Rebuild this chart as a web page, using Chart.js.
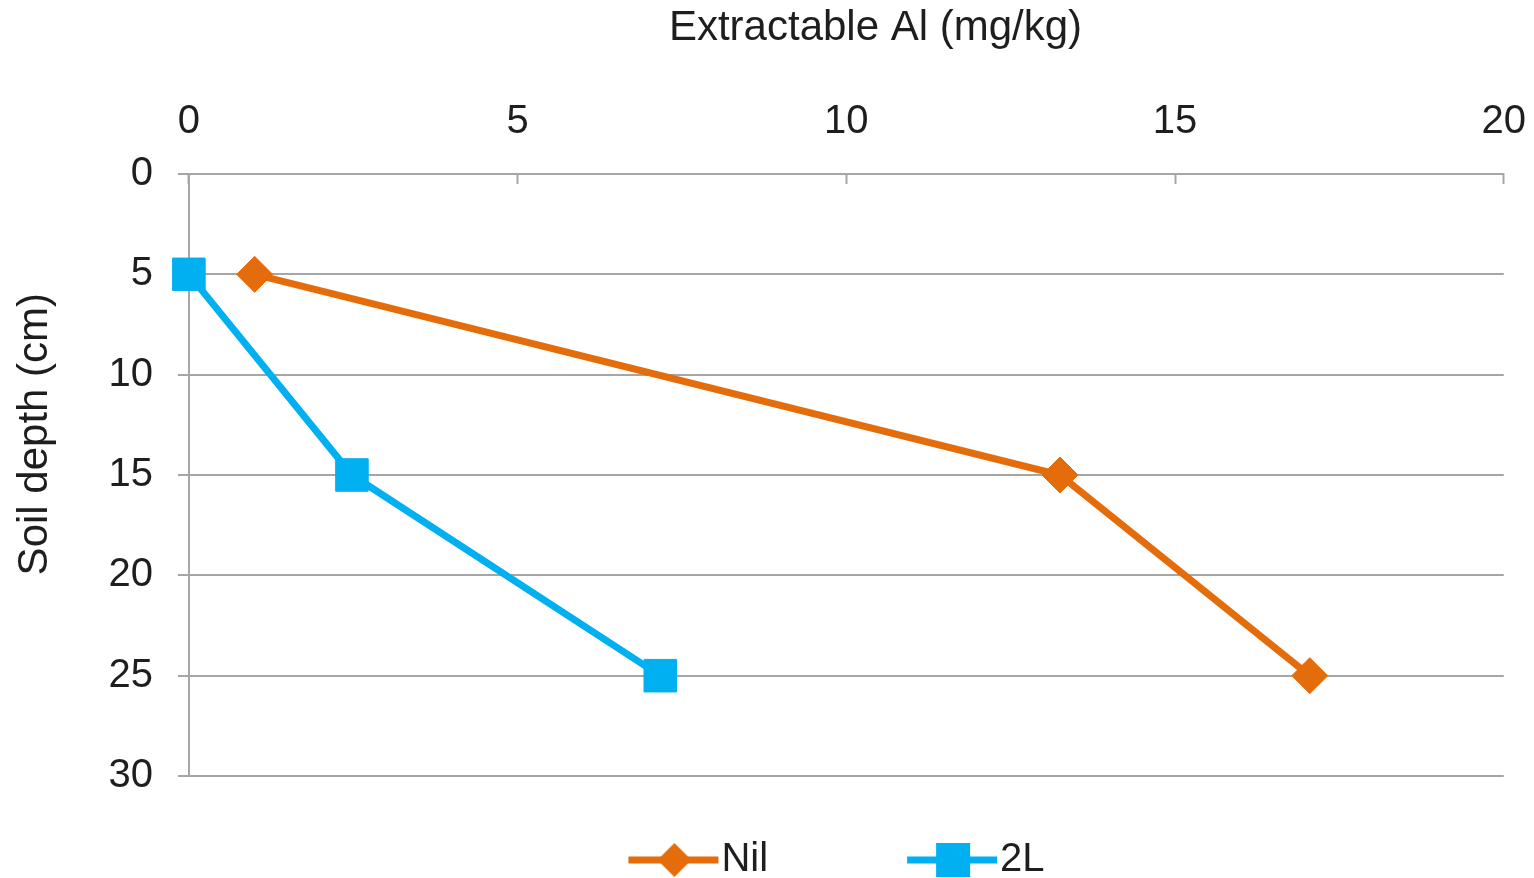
<!DOCTYPE html>
<html>
<head>
<meta charset="utf-8">
<script src="https://cdn.jsdelivr.net/npm/chart.js@4.4.1/dist/chart.umd.min.js"></script>
<style>
  html, body { margin: 0; padding: 0; background: #fff; }
  #chartBox { width: 1534px; height: 878px; }
</style>
</head>
<body>
<div id="chartBox"><canvas id="alCanvas" width="1534" height="878"></canvas></div>
<script>
// soil depth (cm) for each sample
const depths = [5, 15, 25];
// extractable Al (mg/kg)
const nilAl = [1.0, 13.25, 17.05];
const twoLAl = [0, 2.48, 7.17];
const seriesNames = ["Nil", "2L"];
const seriesColors = ["#e46c0a", "#00b0f0"];
const seriesMarkers = ["rectRot", "rect"];

const FONT = "'Liberation Sans', Arial, sans-serif";
const TEXT_COLOR = "#1e1e1e";
const GRID_COLOR = "#a6a6a6";

function toPoints(values) {
  const pts = [];
  for (let i = 0; i < values.length; i++) {
    pts.push({ x: values[i], y: depths[i] });
  }
  return pts;
}

// axis titles sit off-centre in the original, leading blanks nudge them
function nudge(text, n) {
  return " ".repeat(n) + text;
}

// little line + marker icon for the legend
function legendIcon(color, marker) {
  const c = document.createElement("canvas");
  c.width = 260;
  c.height = 40;
  const ctx = c.getContext("2d");
  ctx.strokeStyle = color;
  ctx.fillStyle = color;
  ctx.lineWidth = 7;
  ctx.beginPath();
  ctx.moveTo(163, 20);
  ctx.lineTo(253, 20);
  ctx.stroke();
  ctx.beginPath();
  if (marker === "rect") {
    ctx.rect(192, 3, 34, 34);
  } else {
    ctx.moveTo(209, 3);
    ctx.lineTo(226, 20);
    ctx.lineTo(209, 37);
    ctx.lineTo(192, 20);
    ctx.closePath();
  }
  ctx.fill();
  return c;
}

const icons = [
  legendIcon(seriesColors[0], seriesMarkers[0]),
  legendIcon(seriesColors[1], seriesMarkers[1]),
];

const data = {
  datasets: [
    {
      label: seriesNames[0],
      data: toPoints(nilAl),
      borderColor: seriesColors[0],
      backgroundColor: seriesColors[0],
      borderWidth: 7,
      pointStyle: seriesMarkers[0],
      pointRadius: 18,
      pointBorderWidth: 1,
      clip: false,
    },
    {
      label: seriesNames[1],
      data: toPoints(twoLAl),
      borderColor: seriesColors[1],
      backgroundColor: seriesColors[1],
      borderWidth: 7,
      pointStyle: seriesMarkers[1],
      pointRadius: 23,
      pointBorderWidth: 1,
      clip: false,
    },
  ],
};

const options = {
  responsive: false,
  animation: false,
  layout: { padding: { left: 0, right: 0, top: 0, bottom: -12 } },
  plugins: {
    tooltip: { enabled: false },
    legend: {
      position: "bottom",
      title: {
        display: true,
        text: " ",
        font: { size: 2 },
        padding: { top: 0, bottom: 61.6 },
      },
      labels: {
        usePointStyle: true,
        pointStyleWidth: 212,
        padding: 0,
        color: TEXT_COLOR,
        font: { family: FONT, size: 40 },
        generateLabels: function (chart) {
          const items = Chart.defaults.plugins.legend.labels.generateLabels(chart);
          items.forEach((item, i) => {
            item.pointStyle = icons[i];
          });
          return items;
        },
      },
    },
  },
  scales: {
    x: {
      type: "linear",
      position: "top",
      min: 0,
      max: 20,
      ticks: {
        stepSize: 5,
        padding: 8,
        color: TEXT_COLOR,
        // tall line box keeps the labels clear of the inward tick marks
        font: { family: FONT, size: 40, lineHeight: 2.7 },
      },
      grid: {
        drawOnChartArea: false,
        tickLength: -10,
        tickColor: GRID_COLOR,
        tickWidth: 2,
      },
      border: { color: GRID_COLOR, width: 2 },
      title: {
        display: true,
        text: nudge("Extractable Al (mg/kg)", 5),
        color: TEXT_COLOR,
        font: { family: FONT, size: 42 },
        padding: { top: 3, bottom: 6.6 },
      },
    },
    y: {
      type: "linear",
      reverse: true,
      min: 0,
      max: 30,
      ticks: {
        stepSize: 5,
        padding: 25,
        color: TEXT_COLOR,
        font: { family: FONT, size: 40 },
      },
      grid: {
        color: GRID_COLOR,
        lineWidth: 2,
        tickLength: 11,
      },
      border: { color: GRID_COLOR, width: 2 },
      title: {
        display: true,
        text: nudge("Soil depth (cm)", 7),
        color: TEXT_COLOR,
        font: { family: FONT, size: 42 },
        padding: { top: 10, bottom: 23 },
      },
    },
  },
};

const chartAl = new Chart(document.getElementById("alCanvas"), {
  type: "line",
  data: data,
  options: options,
});
</script>
</body>
</html>
